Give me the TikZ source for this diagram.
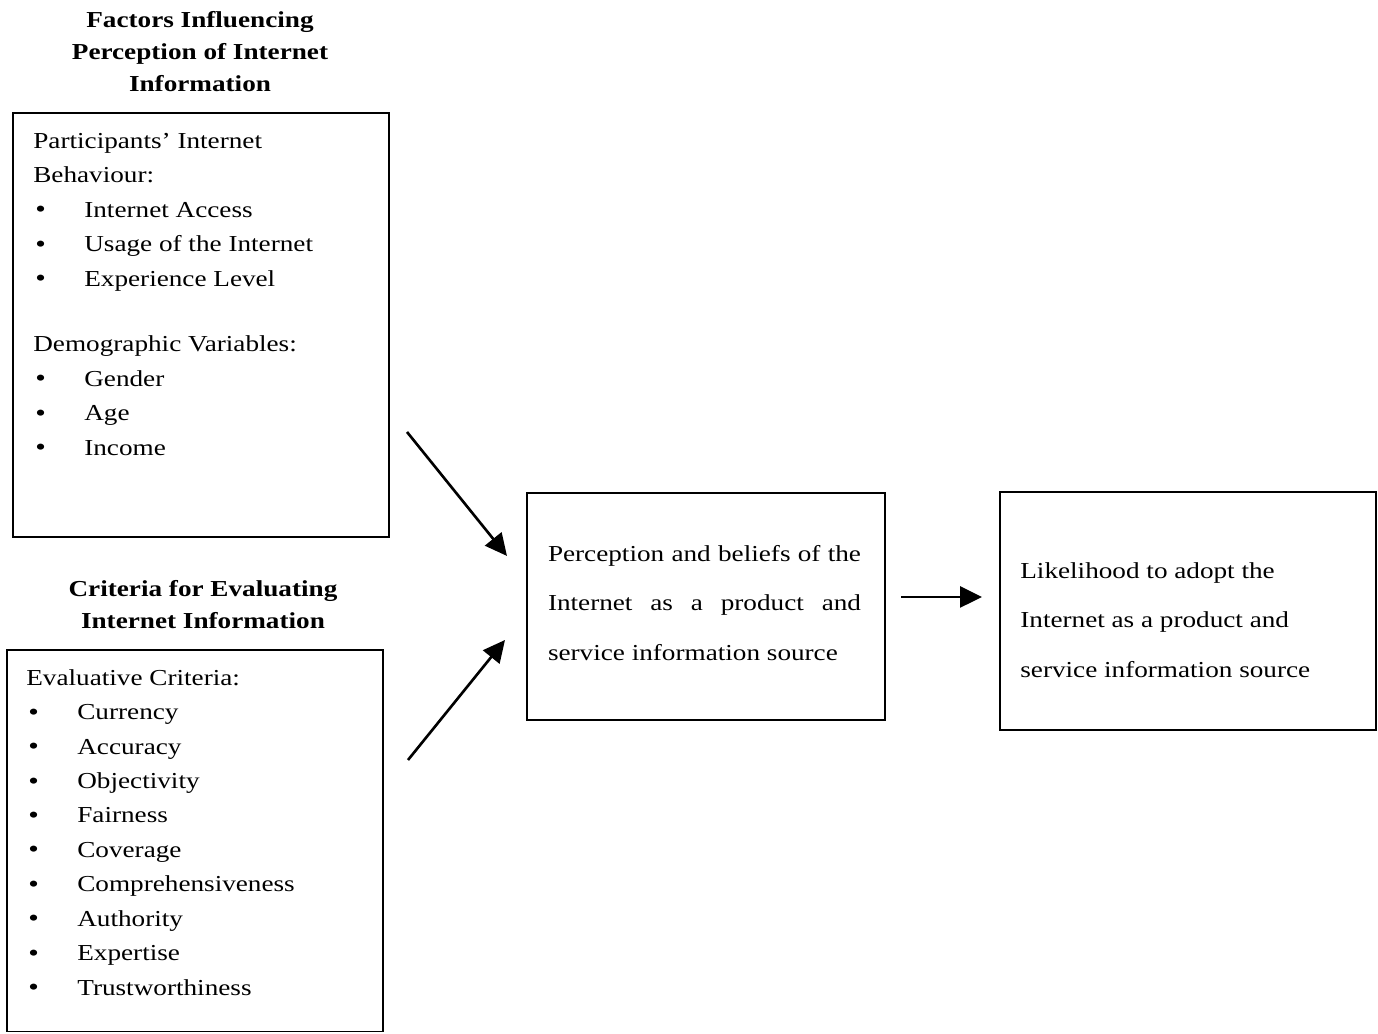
\documentclass[tikz,border=0pt]{standalone}
\usepackage{fontspec}
\setmainfont[FakeStretch=1.19]{Liberation Serif}
\usetikzlibrary{arrows.meta}

\newcommand{\itm}[1]{\hspace*{0.04cm}\makebox[0.98cm][l]{\raisebox{-0.05ex}{\Large\textbullet}}#1}

\begin{document}
\begin{tikzpicture}[auto,
    box/.style={draw, line width=1.1pt, inner sep=0pt},
    list/.style={inner sep=0pt, align=left, anchor=north west,
      font=\fontsize{13}{19.6}\selectfont},
    head/.style={align=center, inner sep=0pt,
      font=\fontsize{13}{18.2}\selectfont\bfseries},
    flow/.style={-{Triangle[length=0.44cm,width=0.42cm]}, line width=1.5pt}]
        \useasboundingbox (0,0) rectangle (27.56,20.68);

        % left column
        \node[head] (T1) at (4.0,19.64) {Factors Influencing\\ Perception of Internet\\ Information};
        \node[box, minimum width=7.52cm, minimum height=8.48cm] (B1) at (4.02,14.18) {};
        \node[list] (L1) at (0.66,18.02) {Participants' Internet\\ Behaviour:\\
          \itm{Internet Access}\\ \itm{Usage of the Internet}\\ \itm{Experience Level}\\[0.62cm]
          Demographic Variables:\\ \itm{Gender}\\ \itm{Age}\\ \itm{Income}};

        \node[head] (T2) at (4.06,8.59) {Criteria for Evaluating\\ Internet Information};
        \node[box, minimum width=7.52cm, minimum height=7.63cm] (B2) at (3.90,3.865) {};
        \node[list] (L2) at (0.52,7.3) {Evaluative Criteria:\\
          \itm{Currency}\\ \itm{Accuracy}\\ \itm{Objectivity}\\ \itm{Fairness}\\
          \itm{Coverage}\\ \itm{Comprehensiveness}\\ \itm{Authority}\\
          \itm{Expertise}\\ \itm{Trustworthiness}};

        % middle and right
        \node[box, minimum width=7.16cm, minimum height=4.54cm] (B3) at (14.12,8.55) {};
        \node[inner sep=0pt, align=left, font=\fontsize{13}{28}\selectfont] (P) at (14.09,8.62)
          {\makebox[6.26cm][s]{Perception and beliefs of the}\\ \makebox[6.26cm][s]{Internet as a product and}\\
           service information source};
        \node[box, minimum width=7.52cm, minimum height=4.76cm] (B4) at (23.76,8.46) {};
        \node[inner sep=0pt, align=left, anchor=west, font=\fontsize{13}{28}\selectfont] (L) at (20.4,8.28)
          {Likelihood to adopt the\\ Internet as a product and\\ service information source};

        \coordinate (a1) at (8.14,12.04);
        \coordinate (a2) at (8.16,5.48);
        \coordinate (a3) at (18.02,8.74);
        \coordinate (e1) at (10.14,9.56);
        \coordinate (e2) at (10.10,7.88);
        \coordinate (e3) at (19.64,8.74);
        \draw
        (a1) edge[flow] (e1)
        (a2) edge[flow] (e2)
        (a3) edge[flow] (e3)
        ;
\end{tikzpicture}
\end{document}
